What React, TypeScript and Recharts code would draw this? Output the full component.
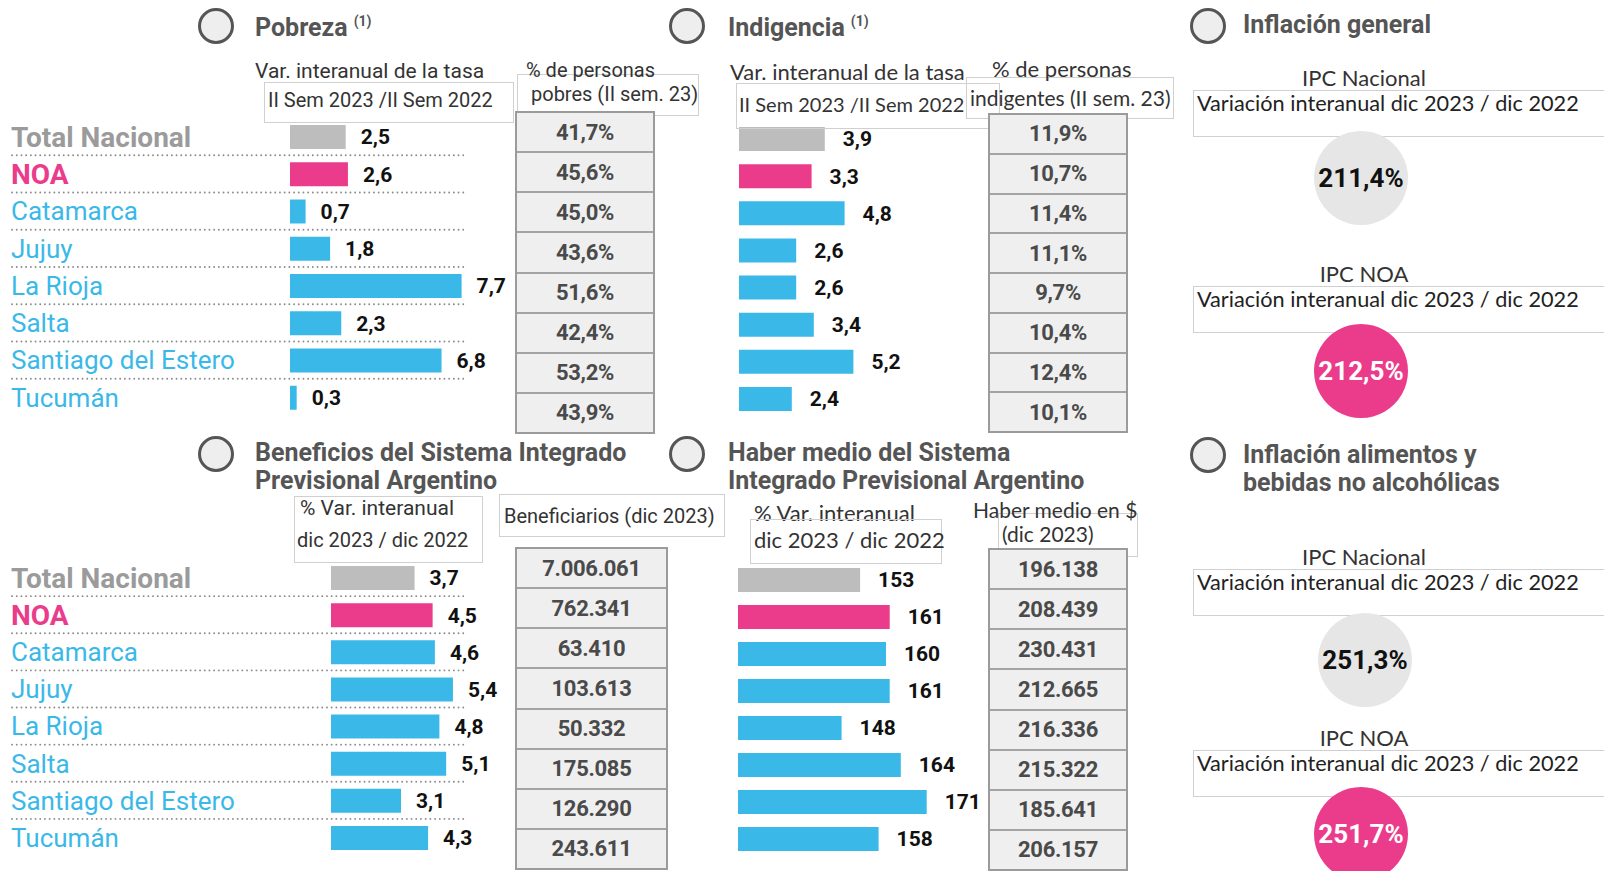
import React from 'react';
import { BarChart, Bar, XAxis, YAxis, Cell, LabelList, PieChart, Pie, Label } from 'recharts';

const regions = ['Total Nacional', 'NOA', 'Catamarca', 'Jujuy', 'La Rioja', 'Salta', 'Santiago del Estero', 'Tucumán'];

const pobrezaVar = [2.5, 2.6, 0.7, 1.8, 7.7, 2.3, 6.8, 0.3];
const pobrezaPct = [41.7, 45.6, 45.0, 43.6, 51.6, 42.4, 53.2, 43.9];

const indigenciaVar = [3.9, 3.3, 4.8, 2.6, 2.6, 3.4, 5.2, 2.4];
const indigenciaPct = [11.9, 10.7, 11.4, 11.1, 9.7, 10.4, 12.4, 10.1];

const beneficiosVar = [3.7, 4.5, 4.6, 5.4, 4.8, 5.1, 3.1, 4.3];
const beneficiarios = [7006061, 762341, 63410, 103613, 50332, 175085, 126290, 243611];

const haberVar = [153, 161, 160, 161, 148, 164, 171, 158];
const haberMedio = [196138, 208439, 230431, 212665, 216336, 215322, 185641, 206157];

const ipcGeneral = [211.4, 212.5];
const ipcAlimentos = [251.3, 251.7];

const GREY = '#bdbdbd';
const PINK = '#eb3c8c';
const BLUE = '#3ab9e9';
const TITLE = '#555';

const barColor = (i: number) => (i === 0 ? GREY : i === 1 ? PINK : BLUE);
const nameColor = (i: number) => (i === 0 ? '#9b9b9b' : i === 1 ? PINK : BLUE);

const comma = (v: any) => String(v).replace('.', ',');
const pct = (v: number) => v.toFixed(1).replace('.', ',') + '%';
const miles = (v: number) => String(v).replace(/\B(?=(\d{3})+(?!\d))/g, '.');

function RowTick(props: any) {
  const { y, payload, rowH, lineEnd } = props;
  const i = regions.indexOf(payload.value);
  return (
    <g>
      <text x={11} y={y} dy="0.36em" fill={nameColor(i)} fontSize={i < 2 ? 28 : 26}
        fontWeight={i < 2 ? 700 : 400} fontFamily="Roboto">{payload.value}</text>
      {i < regions.length - 1 && (
        <line x1={12} x2={lineEnd} y1={y + rowH / 2} y2={y + rowH / 2} stroke="#8c8c8c"
          strokeWidth={1.8} strokeDasharray="0.1 4.6" strokeLinecap="round" />
      )}
    </g>
  );
}

function BarPanel({ left, top, width, height, values, domain, axisWidth, offset, fmt }: any) {
  const data = regions.map((name, i) => ({ name, value: values[i] }));
  const rowH = height / regions.length;
  return (
    <div style={{ position: 'absolute', left, top }}>
      <BarChart layout="vertical" width={width} height={height} data={data}
        margin={{ top: 0, right: 0, bottom: 0, left: 0 }}>
        <XAxis type="number" domain={domain} hide />
        <YAxis type="category" dataKey="name" hide={!axisWidth} width={axisWidth || 0}
          axisLine={false} tickLine={false} interval={0}
          tick={(p: any) => <RowTick {...p} rowH={rowH} lineEnd={466} />} />
        <Bar dataKey="value" barSize={24} isAnimationActive={false}>
          {data.map((d, i) => <Cell key={d.name} fill={barColor(i)} />)}
          <LabelList dataKey="value" position="right" offset={offset} formatter={fmt}
            fill="#111" fontSize={21} fontWeight={700} fontFamily="Roboto" />
        </Bar>
      </BarChart>
    </div>
  );
}

function Bubble({ cx, cy, value, fill, color }: any) {
  const r = 47;
  return (
    <div style={{ position: 'absolute', left: cx - r, top: cy - r }}>
      <PieChart width={2 * r} height={2 * r} margin={{ top: 0, right: 0, bottom: 0, left: 0 }}>
        <Pie data={[{ value }]} dataKey="value" cx="50%" cy="50%" innerRadius={0} outerRadius={r}
          fill={fill} stroke="none" isAnimationActive={false}>
          <Label position="center" value={pct(value)} fill={color} fontSize={26}
            fontWeight={700} fontFamily="Roboto" />
        </Pie>
      </PieChart>
    </div>
  );
}

function Txt({ x, y, size = 20, font = 'Roboto', weight = 400, color = '#333', center = false, children }: any) {
  return (
    <div style={{
      position: 'absolute', left: x, top: y - size * 0.6, fontSize: size, lineHeight: `${size * 1.2}px`,
      fontFamily: font, fontWeight: weight, color, whiteSpace: 'nowrap',
      transform: center ? 'translateX(-50%)' : undefined,
    }}>{children}</div>
  );
}

function Box({ x, y, w, h }: any) {
  return <div style={{ position: 'absolute', left: x, top: y, width: w, height: h, border: '1px solid #d0d0d0', boxSizing: 'border-box' }} />;
}

function Icon({ cx, cy }: any) {
  return <div style={{
    position: 'absolute', left: cx - 18, top: cy - 18, width: 36, height: 36, borderRadius: '50%',
    border: '3.5px solid #555', background: '#eeeeee', boxSizing: 'border-box',
  }} />;
}

function Title({ x, y, lines, sup }: any) {
  return (
    <>
      {lines.map((l: string, i: number) => (
        <Txt key={l} x={x} y={y + i * 28} size={25} weight={700} color={TITLE}>
          {l}
          {sup && i === 0 ? (
            <span style={{ fontSize: 14, position: 'relative', top: -10, marginLeft: 6, lineHeight: 0 }}>(1)</span>
          ) : null}
        </Txt>
      ))}
    </>
  );
}

function Table({ x, y, w, h, values, fmt }: any) {
  return (
    <div style={{
      position: 'absolute', left: x, top: y, width: w, height: h, background: '#efefef',
      border: '2px solid #9b9b9b', boxSizing: 'border-box', display: 'flex', flexDirection: 'column',
    }}>
      {values.map((v: number, i: number) => (
        <div key={i} style={{
          flex: 1, display: 'flex', alignItems: 'center', justifyContent: 'center',
          borderTop: i ? '2px solid #a3a3a3' : 'none', fontFamily: 'Roboto', fontWeight: 700,
          fontSize: 22, color: '#4a4a4a', letterSpacing: -0.3,
        }}>{fmt(v)}</div>
      ))}
    </div>
  );
}

function IpcBlock({ y, title }: any) {
  return (
    <>
      <Txt x={1364} y={y} size={22} font="Lato" center>{title}</Txt>
      <Box x={1193} y={y + 12} w={420} h={47} />
      <Txt x={1197} y={y + 25} size={21.7} font="Lato" color="#222">Variación interanual dic 2023 / dic 2022</Txt>
    </>
  );
}

export default function App() {
  return (
    <div style={{ position: 'relative', width: 1604, height: 871, overflow: 'hidden', background: '#fff' }}>
      <style>{'body{margin:0}'}</style>

      {/* Pobreza */}
      <BarPanel left={0} top={118} width={602} height={298} values={pobrezaVar} domain={[0, 14]}
        axisWidth={290} offset={15} fmt={comma} />
      <Icon cx={216} cy={26} />
      <Title x={255} y={28} lines={['Pobreza']} sup />
      <Txt x={255} y={72} size={21}>Var. interanual de la tasa</Txt>
      <Box x={264} y={82} w={250} h={41} />
      <Txt x={268} y={100} size={20}>II Sem 2023 /II Sem 2022</Txt>
      <Box x={517} y={74} w={182} h={42} />
      <Txt x={526} y={70} size={20}>% de personas</Txt>
      <Txt x={531} y={94} size={20}>pobres (II sem. 23)</Txt>
      <Table x={515} y={111} w={140} h={323} values={pobrezaPct} fmt={pct} />

      {/* Indigencia */}
      <BarPanel left={739} top={120} width={264} height={297} values={indigenciaVar} domain={[0, 12]}
        offset={18} fmt={comma} />
      <Icon cx={687} cy={26} />
      <Title x={728} y={28} lines={['Indigencia']} sup />
      <Txt x={730} y={72} size={22} font="Lato">Var. interanual de la tasa</Txt>
      <Box x={736} y={83} w={264} h={46} />
      <Txt x={739} y={104} size={20} font="Lato">II Sem 2023 /II Sem 2022</Txt>
      <Box x={966} y={77} w={208} h={42} />
      <Txt x={992} y={69} size={22} font="Lato">% de personas</Txt>
      <Txt x={970} y={98} size={21} font="Lato">indigentes (II sem. 23)</Txt>
      <Table x={988} y={113} w={140} h={320} values={indigenciaPct} fmt={pct} />

      {/* Inflación general */}
      <Icon cx={1208} cy={26} />
      <Title x={1243} y={25} lines={['Inflación general']} />
      <IpcBlock y={78} title="IPC Nacional" />
      <Bubble cx={1361} cy={178} value={ipcGeneral[0]} fill="#e6e6e6" color="#111" />
      <IpcBlock y={274} title="IPC NOA" />
      <Bubble cx={1361} cy={371} value={ipcGeneral[1]} fill={PINK} color="#fff" />

      {/* Beneficios SIPA */}
      <BarPanel left={0} top={559} width={602} height={297} values={beneficiosVar} domain={[0, 12]}
        axisWidth={331} offset={15} fmt={comma} />
      <Icon cx={216} cy={454} />
      <Title x={255} y={453} lines={['Beneficios del Sistema Integrado', 'Previsional Argentino']} />
      <Txt x={300} y={509} size={21}>% Var. interanual</Txt>
      <Box x={294} y={496} w={189} h={67} />
      <Txt x={297} y={540} size={20}>dic 2023 / dic 2022</Txt>
      <Box x={499} y={494} w={226} h={43} />
      <Txt x={504} y={516} size={20}>Beneficiarios (dic 2023)</Txt>
      <Table x={515} y={547} w={153} h={323} values={beneficiarios} fmt={miles} />

      {/* Haber medio */}
      <BarPanel left={738} top={561} width={259} height={296} values={haberVar} domain={[120, 190]}
        offset={18} fmt={comma} />
      <Icon cx={687} cy={454} />
      <Title x={728} y={453} lines={['Haber medio del Sistema', 'Integrado Previsional Argentino']} />
      <Txt x={754} y={513} size={22} font="Lato">% Var. interanual</Txt>
      <Box x={750} y={519} w={192} h={45} />
      <Txt x={754} y={540} size={22} font="Lato">dic 2023 / dic 2022</Txt>
      <Box x={998} y={513} w={140} h={44} />
      <Txt x={973} y={510} size={21} font="Lato">Haber medio en $</Txt>
      <Txt x={1002} y={534} size={21} font="Lato">(dic 2023)</Txt>
      <Table x={988} y={548} w={140} h={323} values={haberMedio} fmt={miles} />

      {/* Inflación alimentos */}
      <Icon cx={1208} cy={455} />
      <Title x={1243} y={455} lines={['Inflación alimentos y', 'bebidas no alcohólicas']} />
      <IpcBlock y={557} title="IPC Nacional" />
      <Bubble cx={1365} cy={660} value={ipcAlimentos[0]} fill="#e6e6e6" color="#111" />
      <IpcBlock y={738} title="IPC NOA" />
      <Bubble cx={1361} cy={834} value={ipcAlimentos[1]} fill={PINK} color="#fff" />
    </div>
  );
}
